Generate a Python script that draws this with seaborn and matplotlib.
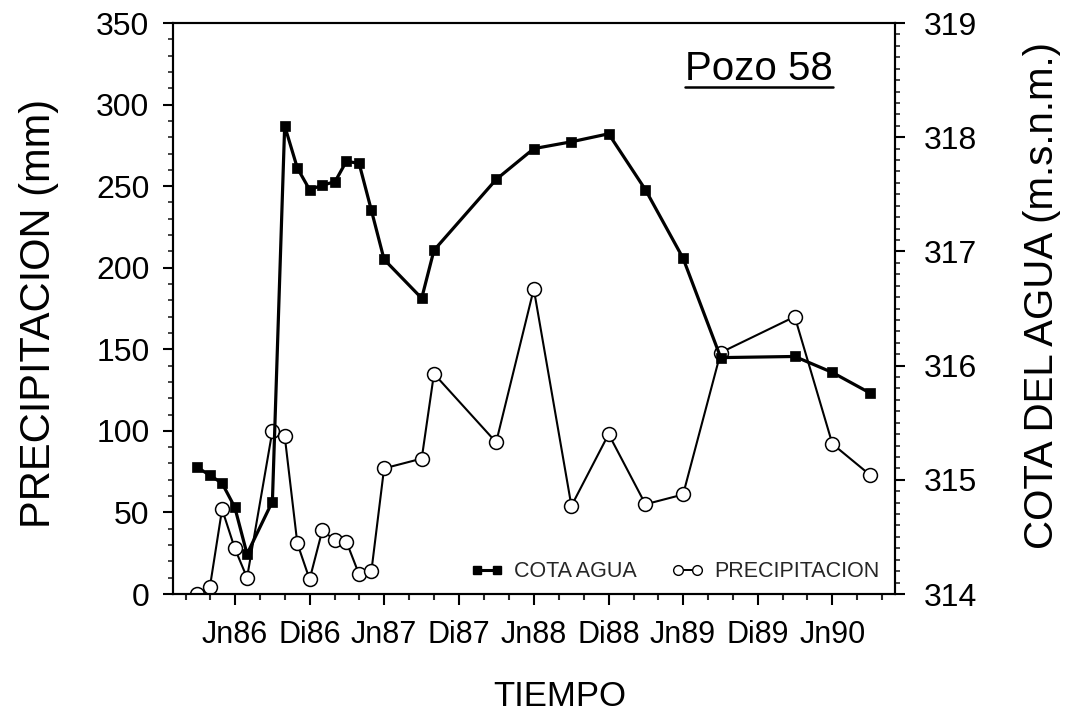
import matplotlib
matplotlib.use("Agg")
import matplotlib.pyplot as plt
import pandas as pd
import seaborn as sns
from matplotlib.lines import Line2D
from matplotlib.ticker import MultipleLocator
import matplotlib.dates as mdates

# Sampling dates (month of each measurement)
fechas = ["1986-03", "1986-04", "1986-05", "1986-06", "1986-07", "1986-09",
          "1986-10", "1986-11", "1986-12", "1987-01", "1987-02", "1987-03",
          "1987-04", "1987-05", "1987-06", "1987-09", "1987-10", "1988-03",
          "1988-06", "1988-09", "1988-12", "1989-03", "1989-06", "1989-09",
          "1990-03", "1990-06", "1990-09"]

# Water table elevation in well 58 (m.s.n.m.)
cota_agua = [315.11, 315.04, 314.97, 314.76, 314.35, 314.81,
             318.10, 317.73, 317.54, 317.58, 317.61, 317.79,
             317.77, 317.36, 316.93, 316.59, 317.01, 317.63,
             317.90, 317.96, 318.03, 317.54, 316.94, 316.07,
             316.08, 315.94, 315.76]

# Rainfall (mm)
precipitacion = [0, 4, 52, 28, 10, 100,
                 97, 31, 9, 39, 33, 32,
                 12, 14, 77, 83, 135, 93,
                 187, 54, 98, 55, 61, 148,
                 170, 92, 73]

# Labelled months on the time axis
fechas_ticks = ["1986-06", "1986-12", "1987-06", "1987-12", "1988-06",
                "1988-12", "1989-06", "1989-12", "1990-06"]
etiquetas_x = ["Jn86", "Di86", "Jn87", "Di87", "Jn88", "Di88", "Jn89", "Di89", "Jn90"]

sns.set_theme(style="ticks")
plt.rcParams["font.family"] = ["Liberation Sans", "DejaVu Sans"]
plt.rcParams["axes.linewidth"] = 1.5

df = pd.DataFrame({
    "fecha": pd.to_datetime(fechas),
    "cota": cota_agua,
    "precip": precipitacion,
})

fig = plt.figure(figsize=(10.86, 7.26), dpi=100)
ax = fig.add_axes([0.1593, 0.1818, 0.6648, 0.7865])
ax2 = ax.twinx()

sns.lineplot(data=df, x="fecha", y="precip", ax=ax, color="black",
             linewidth=1.5, marker="o", markersize=10,
             markerfacecolor="white", markeredgecolor="black",
             markeredgewidth=1.1)
sns.lineplot(data=df, x="fecha", y="cota", ax=ax2, color="black",
             linewidth=2.3, marker="s", markersize=7,
             markerfacecolor="black", markeredgecolor="black",
             markeredgewidth=0.5)

# Time axis
ax.set_xlim(pd.Timestamp("1986-01-01"), pd.Timestamp("1990-11-01"))
ax.set_xticks(pd.to_datetime(fechas_ticks))
ax.set_xticklabels(etiquetas_x)
ax.xaxis.set_minor_locator(mdates.MonthLocator(bymonth=[2, 4, 6, 8, 10, 12]))

# Left axis: rainfall
ax.set_ylim(0, 350)
ax.yaxis.set_major_locator(MultipleLocator(50))
ax.yaxis.set_minor_locator(MultipleLocator(10))

# Right axis: water level
ax2.set_ylim(314, 319)
ax2.yaxis.set_major_locator(MultipleLocator(1))
ax2.yaxis.set_minor_locator(MultipleLocator(0.1))

for a in (ax, ax2):
    for s in a.spines.values():
        s.set_linewidth(1.5)
        s.set_color("black")
    a.grid(False)

ax.tick_params(axis="x", which="major", direction="out", length=8, width=1.5,
               labelsize=22, pad=11, colors="black")
ax.tick_params(axis="x", which="minor", direction="out", length=4.5, width=1.5)
ax.tick_params(axis="y", which="major", direction="out", length=7, width=1.5,
               labelsize=23, pad=10, colors="black")
ax.tick_params(axis="y", which="minor", direction="out", length=3.5, width=1.2)
ax2.tick_params(axis="y", which="major", direction="out", length=7, width=1.5,
                labelsize=23, pad=14, colors="black")
ax2.tick_params(axis="y", which="minor", direction="out", length=3.5, width=1.2)

ax.set_xlabel("TIEMPO", fontsize=25, color="black")
ax.xaxis.set_label_coords(0.536, -0.15)
ax.set_ylabel("PRECIPITACION (mm)", fontsize=30, color="black")
ax.yaxis.set_label_coords(-0.158, 0.491)
ax2.set_ylabel("COTA DEL AGUA (m.s.n.m.)", fontsize=29, color="black")
ax2.yaxis.set_label_coords(1.177, 0.522)

# Legend in the lower right corner
handles = [
    Line2D([], [], color="black", linewidth=2.2, marker="s", markersize=6,
           markerfacecolor="black", markeredgecolor="black"),
    Line2D([], [], color="black", linewidth=1.4, marker="o", markersize=7,
           markerfacecolor="white", markeredgecolor="black", markeredgewidth=1.0),
]
ax2.legend(handles, ["COTA AGUA", "PRECIPITACION"], loc="lower right",
           bbox_to_anchor=(0.995, 0.0), ncol=2, frameon=False, numpoints=2,
           handlelength=1.5, handletextpad=0.5, columnspacing=1.6,
           fontsize=15.5, borderaxespad=0.15)

# Well name, underlined
titulo = ax2.text(0.709, 0.900, "Pozo 58", transform=ax2.transAxes,
                  fontsize=29, ha="left", va="baseline", color="black")
fig.canvas.draw()
bb = titulo.get_window_extent(fig.canvas.get_renderer())
inv = ax2.transAxes.inverted()
(x0, _), (x1, _) = inv.transform([(bb.x0, bb.y0), (bb.x1, bb.y0)])
y_sub = 0.900 - 7.0 / (0.7865 * 726)
ax2.plot([x0, x1], [y_sub, y_sub], transform=ax2.transAxes, color="black",
         linewidth=1.8, clip_on=False)

fig.savefig("out.png", dpi=100)
